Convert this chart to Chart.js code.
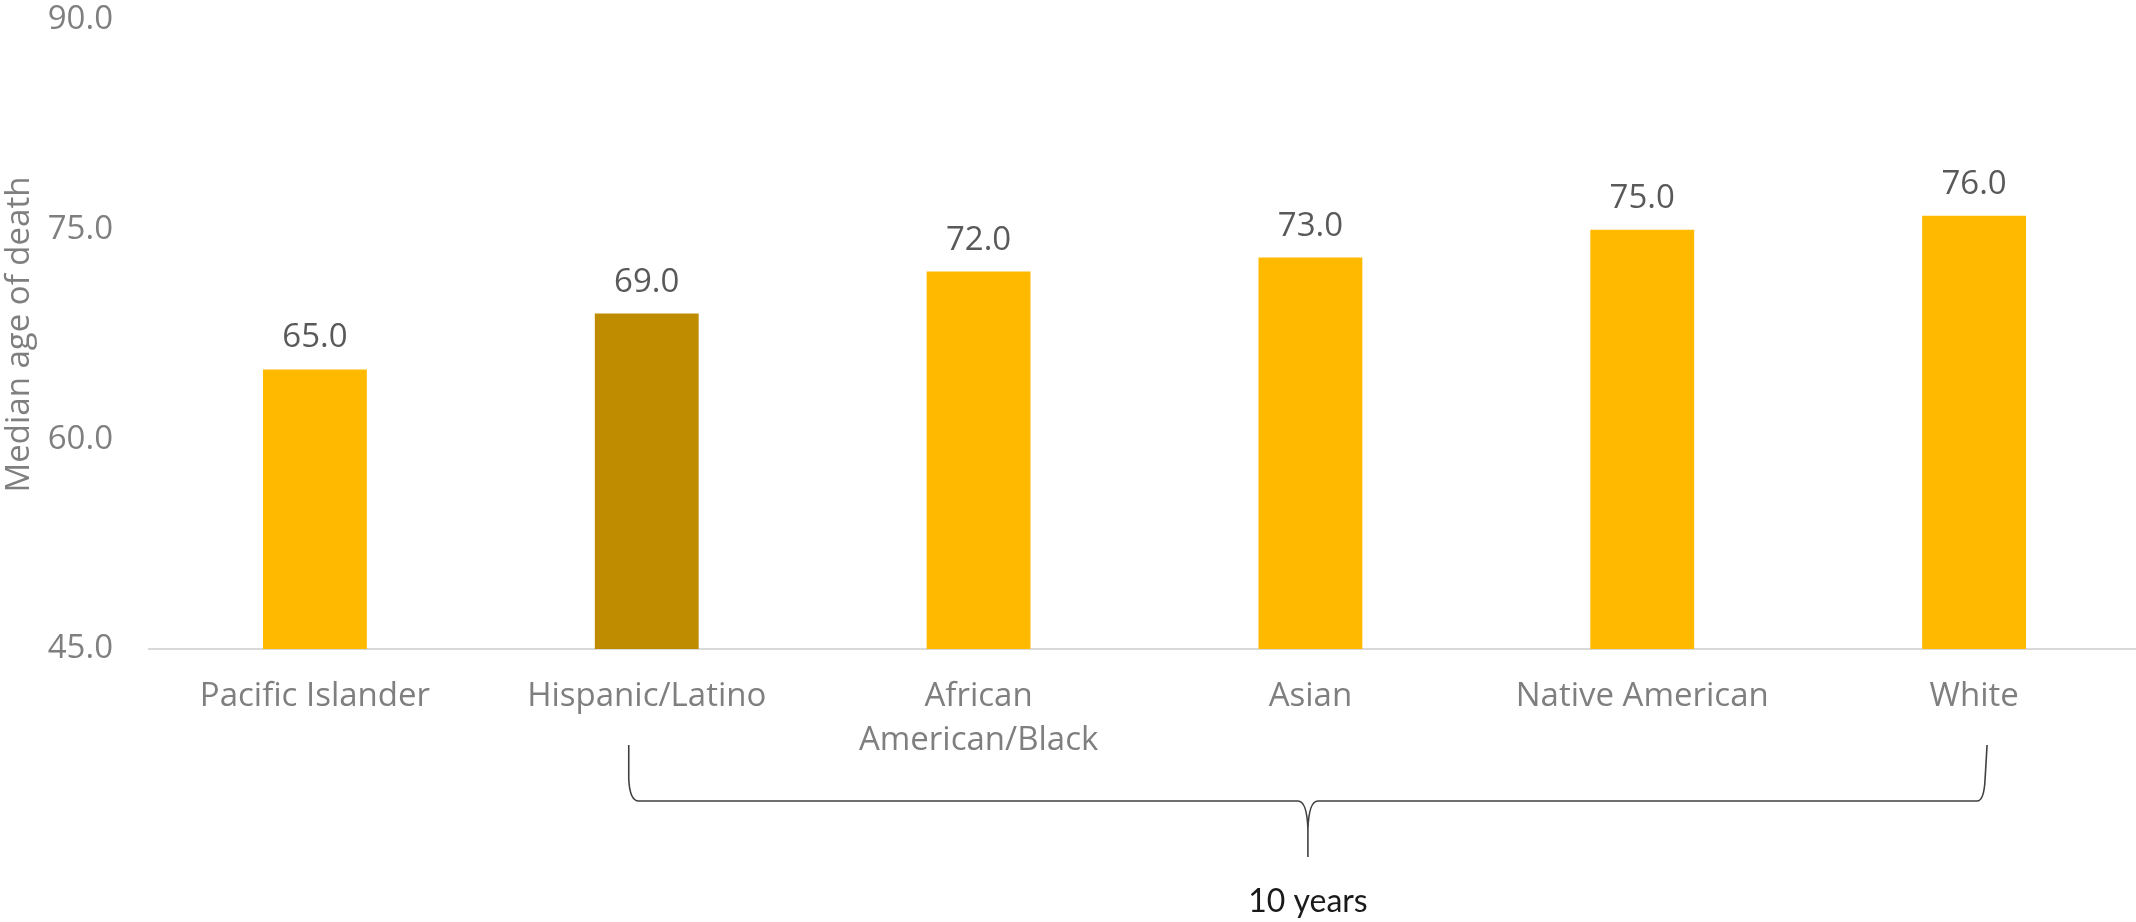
<!DOCTYPE html>
<html>
<head>
<meta charset="utf-8">
<script src="https://cdn.jsdelivr.net/npm/chart.js@4.4.1/dist/chart.umd.min.js"></script>
<style>
  html, body { margin: 0; padding: 0; background: #ffffff; overflow: hidden; }
  #wrap { position: relative; width: 2140px; height: 922px; }
</style>
</head>
<body>
<div id="wrap"><canvas id="c"></canvas></div>
<script>
// ---- data ----
const categories = ['Pacific Islander', 'Hispanic/Latino', ['African', 'American/Black'], 'Asian', 'Native American', 'White'];
const medianAge = [65, 69, 72, 73, 75, 76];
const barColors = ['#FFBA00', '#BF8C00', '#FFBA00', '#FFBA00', '#FFBA00', '#FFBA00'];
const yTicks = [45, 60, 75, 90];
const axisTitle = 'Median age of death';
const braceLabel = '10 years';
const braceFrom = 1;  // Hispanic/Latino
const braceTo = 5;    // White

const FONT = '"Open Sans", "Segoe UI", sans-serif';

const valueLabels = {
  id: 'valueLabels',
  afterDatasetsDraw(chart) {
    const ctx = chart.ctx;
    const meta = chart.getDatasetMeta(0);
    ctx.save();
    ctx.font = '33px ' + FONT;
    ctx.fillStyle = '#595959';
    ctx.textAlign = 'center';
    ctx.textBaseline = 'alphabetic';
    meta.data.forEach((bar, i) => {
      ctx.fillText(medianAge[i].toFixed(1), bar.x, bar.y - 22);
    });
    ctx.restore();
  }
};

const brace = {
  id: 'brace',
  afterDraw(chart) {
    const ctx = chart.ctx;
    const xs = chart.scales.x;
    const base = chart.chartArea.bottom;
    const L = xs.getPixelForValue(braceFrom) - 18;
    const R = xs.getPixelForValue(braceTo) + 13;
    const C = (L + R) / 2;
    const top = base + 96;
    const y = base + 152;
    const stem = base + 208;
    ctx.save();
    ctx.strokeStyle = '#404040';
    ctx.lineWidth = 1.6;
    ctx.beginPath();
    ctx.moveTo(L, top);
    ctx.lineTo(L, y - 22);
    ctx.quadraticCurveTo(L + 1, y, L + 10, y);
    ctx.lineTo(C - 10, y);
    ctx.quadraticCurveTo(C - 1, y, C, y + 28);
    ctx.lineTo(C, stem);
    ctx.moveTo(C, y + 28);
    ctx.quadraticCurveTo(C + 1, y, C + 10, y);
    ctx.lineTo(R - 10, y);
    ctx.quadraticCurveTo(R - 3, y, R - 2, y - 22);
    ctx.lineTo(R, top);
    ctx.stroke();
    ctx.font = '32px Lato, "Open Sans", sans-serif';
    ctx.fillStyle = '#1a1a1a';
    ctx.textAlign = 'center';
    ctx.textBaseline = 'alphabetic';
    ctx.fillText(braceLabel, C, base + 263);
    ctx.restore();
  }
};

function build() {
  new Chart(document.getElementById('c'), {
    type: 'bar',
    data: {
      labels: categories,
      datasets: [{
        data: medianAge,
        backgroundColor: barColors,
        borderWidth: 0,
        categoryPercentage: 1.0,
        barPercentage: 0.313
      }]
    },
    options: {
      responsive: true,
      maintainAspectRatio: false,
      animation: false,
      devicePixelRatio: 1,
      layout: { padding: { top: 20, left: 0, right: 0, bottom: 0 } },
      plugins: { legend: { display: false }, tooltip: { enabled: false } },
      scales: {
        x: {
          grid: { display: false, drawTicks: true, tickLength: 26 },
          border: { display: true, color: '#d9d9d9', width: 2 },
          ticks: {
            color: '#7f7f7f',
            font: { family: FONT, size: 33, lineHeight: 1.33 },
            padding: 0,
            maxRotation: 0,
            minRotation: 0,
            autoSkip: false
          },
          afterFit(scale) { scale.height = 922 - 649; }
        },
        y: {
          min: 45,
          max: 90,
          grid: { display: false, drawTicks: true, tickLength: 36 },
          border: { display: false },
          afterBuildTicks(scale) { scale.ticks = yTicks.map(v => ({ value: v })); },
          ticks: {
            color: '#7f7f7f',
            font: { family: FONT, size: 33 },
            padding: 0,
            callback: (v) => Number(v).toFixed(1)
          },
          title: {
            display: true,
            text: axisTitle,
            color: '#7f7f7f',
            font: { family: FONT, size: 33 },
            padding: 0
          },
          afterFit(scale) { scale.width = 149; }
        }
      }
    },
    plugins: [valueLabels, brace]
  });
}

Promise.all([
  document.fonts.load('33px "Open Sans"'),
  document.fonts.load('32px Lato')
]).then(build, build);
</script>
</body>
</html>
